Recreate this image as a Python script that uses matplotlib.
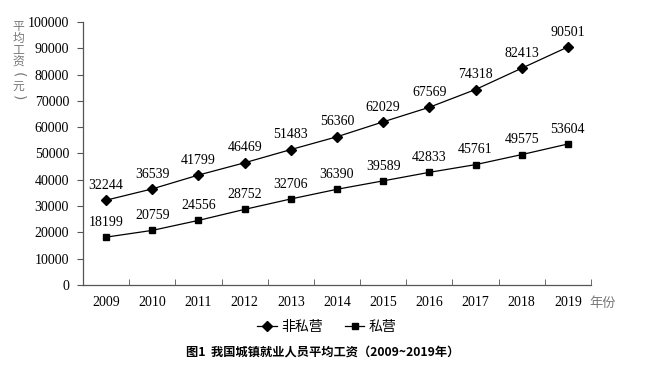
import matplotlib.pyplot as plt
import numpy as np

plt.rcParams['font.family'] = ['Liberation Serif', 'Noto Sans CJK SC']

years = ['2009', '2010', '2011', '2012', '2013', '2014', '2015', '2016', '2017', '2018', '2019']
non_private = [32244, 36539, 41799, 46469, 51483, 56360, 62029, 67569, 74318, 82413, 90501]
private = [18199, 20759, 24556, 28752, 32706, 36390, 39589, 42833, 45761, 49575, 53604]

fig = plt.figure(figsize=(6.45, 3.83), dpi=100)
ax = fig.add_axes([0.1287, 0.2559, 0.7875, 0.6867])

x = np.arange(len(years))
ax.plot(x, non_private, color='black', lw=0.9, marker='D', ms=5, label='非私营')
ax.plot(x, private, color='black', lw=0.9, marker='s', ms=5, label='私营')

for xi, v in zip(x, non_private):
    ax.annotate(str(v), (xi, v), xytext=(0, 6), textcoords='offset points',
                ha='center', va='bottom', fontsize=10)
for xi, v in zip(x, private):
    ax.annotate(str(v), (xi, v), xytext=(0, 6), textcoords='offset points',
                ha='center', va='bottom', fontsize=10)

ax.set_xlim(-0.5, len(years) - 0.5)
ax.set_ylim(0, 100000)
ax.set_yticks(np.arange(0, 100001, 10000))
ax.set_yticklabels([str(v) for v in range(0, 100001, 10000)], fontsize=10)

# category axis: labels at centers, tick marks between categories
ax.set_xticks(x)
ax.set_xticklabels(years, fontsize=10)
ax.tick_params(axis='x', length=0, pad=8)
ax.set_xticks(np.arange(-0.5, len(years)), minor=True)
ax.tick_params(axis='x', which='minor', direction='in', length=4, color='#555555')
ax.tick_params(axis='y', direction='out', length=4, color='#555555', pad=6)

for s in ['top', 'right']:
    ax.spines[s].set_visible(False)
for s in ['left', 'bottom']:
    ax.spines[s].set_color('#555555')
    ax.spines[s].set_linewidth(0.9)

# vertical stacked y label
ylab = ['平', '均', '工', '资', '(', '元', ')']
for i, ch in enumerate(ylab):
    if ch in '()':
        fig.text(0.029, 0.93 - i * 0.031, ch, ha='center', va='center', rotation=270,
                 fontsize=10, color='#777777', family=['DejaVu Sans'])
    else:
        fig.text(0.029, 0.93 - i * 0.031, ch, ha='center', va='center',
                 fontsize=8.5, color='#777777', family=['Noto Sans CJK SC'])
fig.text(0.913, 0.208, '年份', ha='left', va='center', fontsize=9.5,
         color='#777777', family=['Noto Sans CJK SC'])

ax.legend(loc='upper center', bbox_to_anchor=(0.48, -0.09), ncol=2, frameon=False,
          handlelength=1.4, handletextpad=0.3, columnspacing=1.6,
          prop={'family': ['Liberation Serif', 'Noto Sans CJK SC'], 'size': 10})

fig.text(0.50, 0.08, '图1  我国城镇就业人员平均工资（2009~2019年）', ha='center', va='center',
         fontsize=8.8, fontweight='bold', family=['Noto Sans CJK SC'])

fig.savefig('out.png', dpi=100)
